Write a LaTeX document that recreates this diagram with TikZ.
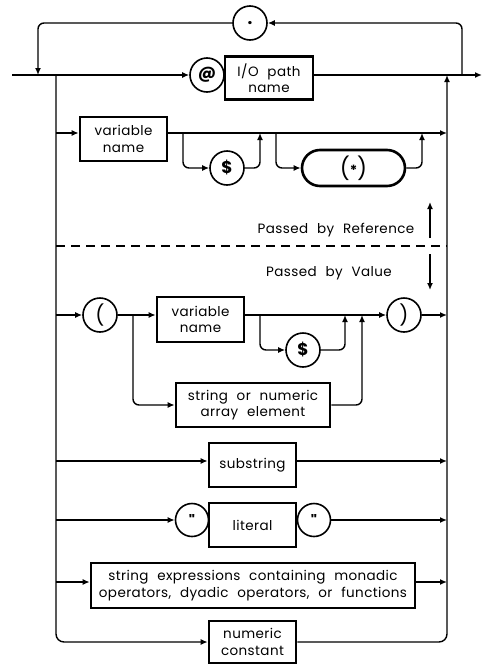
\documentclass[tikz,border=0pt]{standalone}
\usepackage{fontspec}
\setmainfont{Poppins}[LetterSpace=3, WordSpace=2.2]
\newfontfamily\qfont{Poppins}[Ligatures=TeXOff]
\usetikzlibrary{arrows.meta}
\begin{document}
\begin{tikzpicture}[x=1pt,y=-1pt,
  conn/.style={line width=1.4pt, line join=round},
  arr/.style={-{Latex[length=7pt,width=6pt]}},
  rc/.style={rounded corners=6pt},
  txt/.style={font=\fontsize{13.5}{16.5}\selectfont},
  box/.style={draw, line width=2.6pt, inner sep=0pt, align=center, txt},
  circ/.style={draw, circle, line width=1.6pt, inner sep=0pt, minimum size=34pt, font=\fontsize{17}{17}\selectfont\bfseries},
  lbl/.style={txt}]
\useasboundingbox (0,0) rectangle (482,667);
% ---- nodes
\node[circ] (dot) at (250,23) {.};
\node[circ] (at) at (207,75) {@};
\node[box, minimum width=88pt, minimum height=43pt] (io) at (269,78) {I/O path\\name};
\node[box, minimum width=87pt, minimum height=44pt] (var1) at (123.5,139) {variable\\name};
\node[circ] (dl1) at (227,168) {\$};
\node[draw, line width=2.6pt, rounded corners=18pt, minimum width=103pt, minimum height=36pt, inner sep=0pt] (star) at (353.5,168) {\fontsize{22}{22}\selectfont(\raisebox{1pt}{\fontsize{14}{14}\selectfont\bfseries *})};
\node[lbl] (pref) at (336,230) {Passed by Reference};
\node[lbl] (pval) at (329,273) {Passed by Value};
\node[circ, font=\fontsize{20}{20}\selectfont] (lpar) at (100,315) {(};
\node[box, minimum width=87pt, minimum height=45pt] (var2) at (200.5,319.5) {variable\\name};
\node[circ] (dl2) at (303,350) {\$};
\node[circ, font=\fontsize{20}{20}\selectfont] (rpar) at (404,315) {)};
\node[box, minimum width=154pt, minimum height=44pt] (arrel) at (253,405) {string or numeric\\array element};
\node[box, minimum width=87pt, minimum height=44pt] (sub) at (252.5,465) {substring};
\node[circ, minimum size=33pt, font=\fontsize{15}{15}\selectfont\qfont\bfseries] (q1) at (192,520) {"};
\node[box, minimum width=87pt, minimum height=44pt] (lit) at (252.5,525) {literal};
\node[circ, minimum size=33pt, font=\fontsize{15}{15}\selectfont\qfont\bfseries] (q2) at (314,520) {"};
\node[box, minimum width=324pt, minimum height=45pt] (sexp) at (253,585.5) {string expressions containing monadic\\operators, dyadic operators, or functions};
\node[box, minimum width=87pt, minimum height=42pt] (nc) at (252.5,642) {numeric\\constant};
% ---- coordinates
\coordinate (start) at (12,75);
\coordinate (end) at (482,75);
\coordinate (lp) at (38,75);
\coordinate (rp) at (462,75);
\coordinate (lt) at (56,75);
\coordinate (rt) at (447,75);
\coordinate (r2l) at (56,133);
\coordinate (r2r) at (447,133);
\coordinate (b1a) at (183,133);
\coordinate (b1b) at (260,133);
\coordinate (b2a) at (276,133);
\coordinate (b2b) at (422,133);
\coordinate (dl) at (56,246);
\coordinate (dr) at (447,246);
\coordinate (upa) at (430,238);
\coordinate (upb) at (430,202);
\coordinate (dna) at (430,254);
\coordinate (dnb) at (430,290);
\coordinate (r3l) at (56,315);
\coordinate (r3r) at (447,315);
\coordinate (b3a) at (133,315);
\coordinate (b3b) at (362,315);
\coordinate (b4a) at (260,315);
\coordinate (b4b) at (345,315);
\coordinate (r4l) at (56,461);
\coordinate (r4r) at (447,461);
\coordinate (r5l) at (56,520);
\coordinate (r5r) at (447,520);
\coordinate (r6l) at (56,582);
\coordinate (r6r) at (447,582);
% ---- main line and loop
\draw[conn,arr] (start) -- (at.west);
\draw[conn,arr] (io.east |- start) -- (end);
\draw[conn,arr,rc] (rp) |- (dot.east);
\draw[conn,arr,rc] (dot.west) -| (lp);
% ---- rails
\draw[conn,arr,rounded corners=8pt] (lt) |- (nc.west);
\draw[conn,arr,rounded corners=8pt] (nc.east) -| (rt);
% ---- row 2
\draw[conn,arr] (r2l) -- (var1.west |- r2l);
\draw[conn,arr] (var1.east |- r2l) -- (r2r);
\draw[conn,arr,rc] (b1a) |- (dl1.west);
\draw[conn,arr,rc] (dl1.east) -| (b1b);
\draw[conn,arr,rc] (b2a) |- (star.west);
\draw[conn,arr,rc] (star.east) -| (b2b);
% ---- divider
\draw[conn, dash pattern=on 9pt off 6pt] (dl) -- (dr);
\draw[conn,arr] (upa) -- (upb);
\draw[conn,arr] (dna) -- (dnb);
% ---- row 3
\draw[conn,arr] (r3l) -- (lpar.west);
\draw[conn,arr] (lpar.east) -- (var2.west |- r3l);
\draw[conn,arr] (var2.east |- r3l) -- (rpar.west);
\draw[conn,arr] (rpar.east) -- (r3r);
\draw[conn,arr,rc] (b3a) |- (arrel.west);
\draw[conn,arr,rc] (arrel.east) -| (b3b);
\draw[conn,arr,rc] (b4a) |- (dl2.west);
\draw[conn,arr,rc] (dl2.east) -| (b4b);
% ---- rows 4-6
\draw[conn,arr] (r4l) -- (sub.west |- r4l);
\draw[conn,arr] (sub.east |- r4l) -- (r4r);
\draw[conn,arr] (r5l) -- (q1.west);
\draw[conn,arr] (q2.east) -- (r5r);
\draw[conn,arr] (r6l) -- (sexp.west |- r6l);
\draw[conn,arr] (sexp.east |- r6l) -- (r6r);
\end{tikzpicture}
\end{document}
